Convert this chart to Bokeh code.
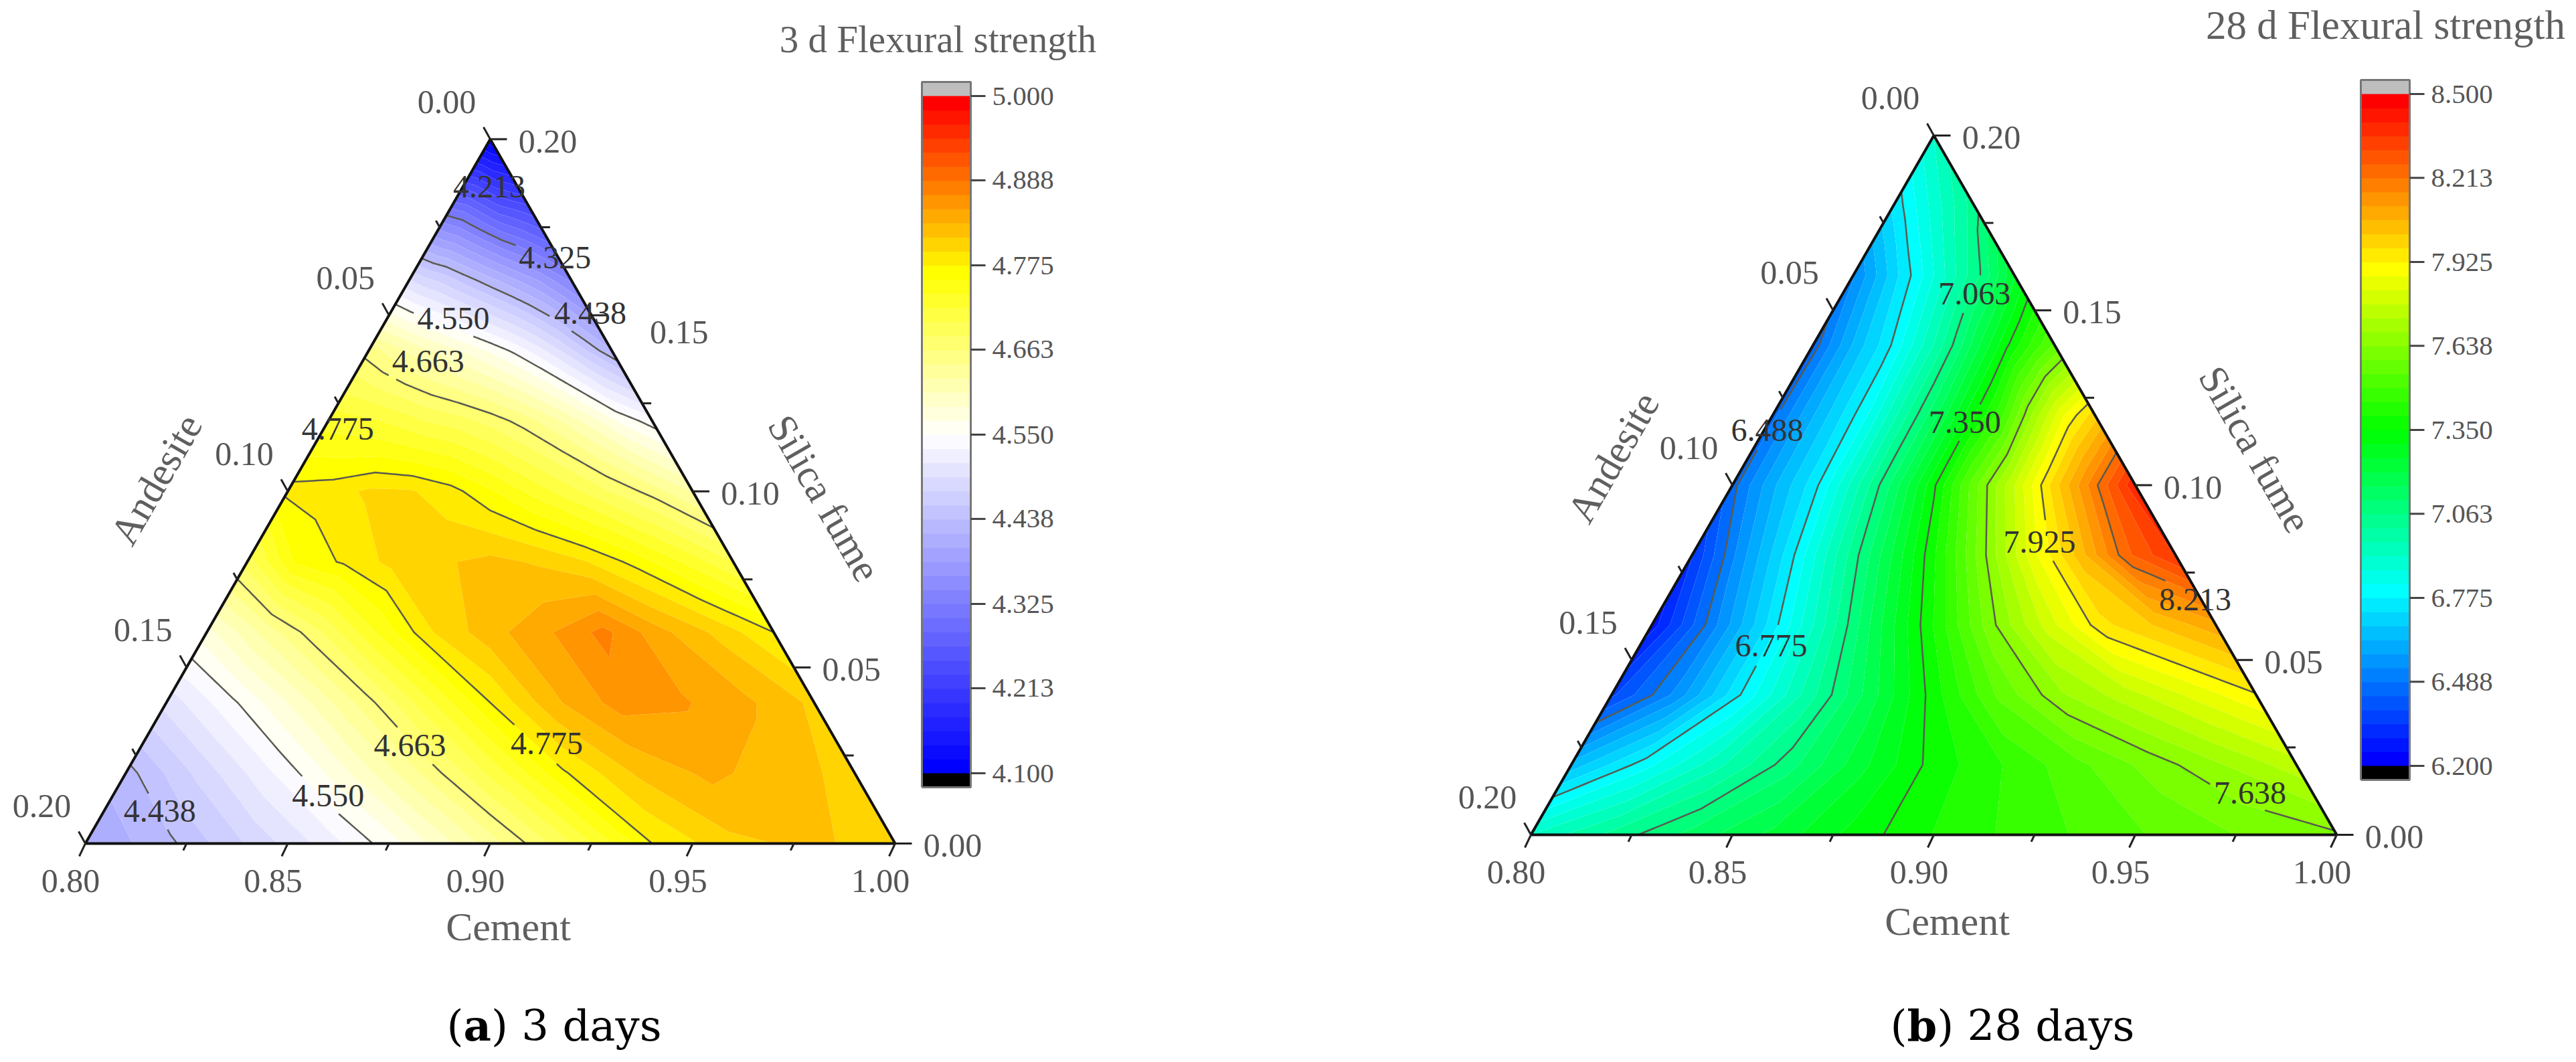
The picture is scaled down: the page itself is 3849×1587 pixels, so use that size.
import numpy as np
from bokeh.core.properties import field, value
from bokeh.embed import file_html
from bokeh.layouts import row
from bokeh.models import Range1d
from bokeh.plotting import figure
from bokeh.plotting.contour import contour_data
from bokeh.resources import INLINE

FONT = "Liberation Serif"
CAPTION_FONT = "DejaVu Serif"

# silica fume level of each row of the grids, bottom to top
silica_rows = [0.00, 0.02, 0.04, 0.06, 0.08, 0.10, 0.12, 0.14, 0.16, 0.18, 0.20]
# each row runs from the left edge to the right edge of the triangle, 11 values

z_3d = [
    [4.400, 4.432, 4.477, 4.522, 4.573, 4.634, 4.700, 4.775, 4.808, 4.817, 4.800],
    [4.430, 4.480, 4.530, 4.583, 4.642, 4.705, 4.772, 4.815, 4.836, 4.822, 4.805],
    [4.500, 4.545, 4.594, 4.649, 4.712, 4.775, 4.828, 4.858, 4.852, 4.834, 4.808],
    [4.580, 4.630, 4.680, 4.739, 4.794, 4.824, 4.847, 4.875, 4.837, 4.808, 4.775],
    [4.690, 4.760, 4.778, 4.800, 4.810, 4.818, 4.810, 4.794, 4.768, 4.735, 4.700],
    [4.782, 4.785, 4.797, 4.796, 4.783, 4.759, 4.733, 4.707, 4.680, 4.655, 4.623],
    [4.730, 4.725, 4.715, 4.700, 4.690, 4.675, 4.655, 4.630, 4.600, 4.565, 4.540],
    [4.655, 4.635, 4.615, 4.600, 4.583, 4.565, 4.545, 4.520, 4.490, 4.455, 4.420],
    [4.495, 4.480, 4.470, 4.455, 4.440, 4.425, 4.410, 4.395, 4.380, 4.360, 4.340],
    [4.310, 4.305, 4.300, 4.290, 4.280, 4.270, 4.260, 4.255, 4.250, 4.245, 4.240],
    [4.105, 4.105, 4.105, 4.105, 4.105, 4.105, 4.105, 4.105, 4.105, 4.105, 4.105],
]

z_28d = [
    [6.92, 7.03, 7.13, 7.22, 7.32, 7.40, 7.46, 7.51, 7.56, 7.60, 7.63],
    [6.65, 6.80, 6.95, 7.09, 7.24, 7.37, 7.45, 7.53, 7.61, 7.685, 7.76],
    [6.38, 6.55, 6.775, 6.98, 7.18, 7.375, 7.55, 7.68, 7.76, 7.84, 7.92],
    [6.27, 6.50, 6.72, 6.95, 7.19, 7.40, 7.62, 7.80, 7.96, 8.03, 8.10],
    [6.34, 6.56, 6.75, 6.97, 7.18, 7.39, 7.62, 7.85, 8.04, 8.25, 8.36],
    [6.47, 6.62, 6.75, 6.94, 7.13, 7.34, 7.57, 7.78, 8.00, 8.20, 8.40],
    [6.47, 6.60, 6.71, 6.83, 6.99, 7.14, 7.31, 7.46, 7.68, 7.87, 8.00],
    [6.46, 6.57, 6.67, 6.75, 6.86, 6.97, 7.09, 7.22, 7.34, 7.45, 7.55],
    [6.53, 6.60, 6.67, 6.74, 6.80, 6.87, 6.94, 7.01, 7.07, 7.16, 7.25],
    [6.74, 6.77, 6.80, 6.83, 6.86, 6.89, 6.92, 6.95, 6.98, 7.01, 7.04],
    [6.92, 6.92, 6.92, 6.92, 6.92, 6.92, 6.92, 6.92, 6.92, 6.92, 6.92],
]

ticks_3d = [4.100, 4.213, 4.325, 4.438, 4.550, 4.663, 4.775, 4.888, 5.000]
ticks_28d = [6.200, 6.488, 6.775, 7.063, 7.350, 7.638, 7.925, 8.213, 8.500]
lines_3d = [4.213, 4.325, 4.438, 4.550, 4.663, 4.775]
lines_28d = [6.488, 6.775, 7.063, 7.350, 7.638, 7.925, 8.213]

# contour labels: text, cement, silica
labels_3d = [("4.213", 0.8065, 0.1865), ("4.325", 0.8328, 0.1664), ("4.438", 0.8494, 0.1506),
             ("4.550", 0.8164, 0.1490), ("4.663", 0.8162, 0.1369), ("4.775", 0.8035, 0.1177),
             ("4.663", 0.8662, 0.0279), ("4.775", 0.8997, 0.0285), ("4.550", 0.8532, 0.0135),
             ("4.438", 0.8138, 0.0092)]
labels_28d = [("7.063", 0.8327, 0.1548), ("6.488", 0.8008, 0.1157), ("7.350", 0.8487, 0.1180),
              ("7.925", 0.8844, 0.0837), ("8.213", 0.9312, 0.0673), ("6.775", 0.8326, 0.0541),
              ("7.638", 0.9725, 0.0120)]

major = [0.00, 0.05, 0.10, 0.15, 0.20]
minor = [0.025, 0.075, 0.125, 0.175]

BLUE, CYAN, GREEN, YELLOW, RED = (0, 0, 255), (0, 255, 255), (0, 255, 0), (255, 255, 0), (255, 0, 0)
WHITE = (255, 255, 255)
TOP = 0
BOTTOM = 1579
TICK_GREY = "#555555"


def band_colors(nodes):
    pos = [n[0] for n in nodes]
    out = []
    for k in range(48):
        rgb = [int(round(np.interp(k, pos, [n[1][i] for n in nodes]))) for i in range(3)]
        out.append("#%02x%02x%02x" % tuple(rgb))
    return out


def cut_lines(xs, ys, boxes):
    # contour lines stop around their labels, as in the original
    new_x, new_y = [], []
    for x, y in zip(xs, ys):
        x, y = np.asarray(x, float), np.asarray(y, float)
        if len(x) < 2:
            continue
        t = np.arange(len(x))
        tt = np.linspace(0, len(x) - 1, (len(x) - 1) * 12 + 1)
        fx, fy = np.interp(tt, t, x), np.interp(tt, t, y)
        for bx, by, hw, hh in boxes:
            hit = (np.abs(fx - bx) < hw) & (np.abs(fy - by) < hh)
            fx[hit] = np.nan
            fy[hit] = np.nan
        new_x.append(fx.tolist())
        new_y.append(fy.tolist())
    return new_x, new_y


def panel(z, ticks, line_levels, labels, nodes, tern, bar, page_left, page_right, title, names, caption,
          shifted=None):
    px_x, px_y, bl_x, base_y = tern
    s = np.array(silica_rows)
    frac = np.linspace(0, 1, 11)
    cement = 0.8 + np.outer(0.2 - s, frac)
    X = cement + s[:, None] / 2
    Y = np.repeat(s[:, None], 11, axis=1)
    Z = np.array(z)

    low, high = ticks[0], ticks[-1]
    levels = np.linspace(low, high, 49)
    colors = band_colors(nodes)

    x_range = Range1d(0.8 - (bl_x - page_left) / px_x, 0.8 + (page_right - bl_x) / px_x)
    y_range = Range1d(-(BOTTOM - base_y) / px_y, (base_y - TOP) / px_y)
    p = figure(width=page_right - page_left, height=BOTTOM - TOP, x_range=x_range, y_range=y_range,
               toolbar_location=None, output_backend="svg", min_border=0)
    p.xaxis.visible = False
    p.yaxis.visible = False
    p.grid.visible = False
    p.outline_line_color = None

    bar_left, bar_right, y_high, y_low = bar
    per_px = (high - low) / (y_low - y_high)
    p.extra_x_ranges = {"page_x": Range1d(page_left, page_right)}
    p.extra_y_ranges = {"page_y": Range1d(BOTTOM, TOP),
                        "bar_y": Range1d(low - (BOTTOM - y_low) * per_px, high + (y_high - TOP) * per_px)}

    fills = p.contour(X, Y, Z, levels, fill_color=colors)
    fills.fill_renderer.glyph.line_color = field("fill_color")
    fills.fill_renderer.glyph.line_width = 1

    boxes = [(c + si / 2, si, 58 / px_x, 26 / px_y) for _, c, si in labels]
    data = contour_data(X, Y, Z, line_levels, want_fill=False, want_line=True)
    lx, ly = cut_lines(data.line_data.xs, data.line_data.ys, boxes)
    p.multi_line(lx, ly, line_color="#5a5a50", line_width=2.5)

    # triangle
    p.multi_line([[0.8, 1.0, 0.9, 0.8]], [[0.0, 0.0, 0.2, 0.0]], line_color="#111111", line_width=4)

    # ticks on the three sides
    dx_b, dy_b = -9 / px_x, -19 / px_y
    dx_l, dy_l = -10 / px_x, 18 / px_y
    dx_r, dy_r = 25 / px_x, 0.0
    tx, ty = [], []
    for vals, k in ((major, 1.0), (minor, 0.55)):
        for v in vals:
            # cement
            x0, y0 = 0.8 + v, 0.0
            tx.append([x0, x0 + k * dx_b])
            ty.append([y0, y0 + k * dy_b])
            # andesite
            x0, y0 = 0.8 + (0.2 - v) / 2, 0.2 - v
            tx.append([x0, x0 + k * dx_l])
            ty.append([y0, y0 + k * dy_l])
            # silica fume
            x0, y0 = 1.0 - v / 2, v
            tx.append([x0, x0 + k * dx_r])
            ty.append([y0, y0 + k * dy_r])
    p.multi_line(tx, ty, line_color="#222222", line_width=3)

    # tick labels
    txt_x, txt_y, txt = [], [], []
    for v in major:
        s_txt = "%.2f" % v
        txt_x.append(0.8 + v - 22 / px_x)
        txt_y.append(-56 / px_y)
        txt.append("%.2f" % (0.8 + v))
        txt_x.append(0.8 + (0.2 - v) / 2 - 65 / px_x)
        txt_y.append(0.2 - v + 56 / px_y)
        txt.append(s_txt)
        sx, sy = (shifted or {}).get(v, (0, 0))
        txt_x.append(1.0 - v / 2 + (86 + sx) / px_x)
        txt_y.append(v - (3 + sy) / px_y)
        txt.append(s_txt)
    p.text(txt_x, txt_y, text=txt, text_font=value(FONT), text_font_size="50px", text_color=TICK_GREY,
           text_align="center", text_baseline="middle")

    # contour labels
    p.text([c + si / 2 for _, c, si in labels], [si for _, c, si in labels], text=[t for t, _, _ in labels],
           text_font=value(FONT), text_font_size="48px", text_color="#333333",
           text_align="center", text_baseline="middle")

    # colour scale
    p.quad(left=[bar_left] * 48, right=[bar_right] * 48, bottom=levels[:-1], top=levels[1:], fill_color=colors,
           line_color=colors, line_width=1, x_range_name="page_x", y_range_name="bar_y")
    step = levels[1] - levels[0]
    p.quad(left=[bar_left, bar_left], right=[bar_right, bar_right], bottom=[high, low - step], top=[high + step, low],
           fill_color=["#bebebe", "#000000"], line_color=None, x_range_name="page_x", y_range_name="bar_y")
    p.multi_line([[bar_left, bar_left, bar_right, bar_right, bar_left]],
                 [[low - step, high + step, high + step, low - step, low - step]],
                 line_color="#777777", line_width=3, x_range_name="page_x", y_range_name="bar_y")
    p.multi_line([[bar_right, bar_right + 22] for _ in ticks], [[t, t] for t in ticks], line_color="#444444",
                 line_width=3, x_range_name="page_x", y_range_name="bar_y")
    p.text([bar_right + 32] * len(ticks), ticks, text=["%.3f" % t for t in ticks], text_font=value(FONT),
           text_font_size="41px", text_color=TICK_GREY, text_baseline="middle",
           x_range_name="page_x", y_range_name="bar_y")

    # titles
    t_x, t_y, t_s, t_size = title
    p.text([t_x], [t_y], text=[t_s], text_font=value(FONT), text_font_size=t_size, text_color="#5f5f5f",
           text_align="center", text_baseline="middle", x_range_name="page_x", y_range_name="page_y")
    for name, nx, ny, ang in names:
        p.text([nx], [ny], text=[name], angle=[ang], text_font=value(FONT), text_font_size="60px",
               text_color="#5f5f5f", text_align="center", text_baseline="middle",
               x_range_name="page_x", y_range_name="page_y")

    c_x, c_y, letter, rest = caption
    p.text([c_x], [c_y], text=["("], text_font=value(CAPTION_FONT), text_font_size="64px", text_color="#000000",
           text_baseline="middle", x_range_name="page_x", y_range_name="page_y")
    p.text([c_x + 25], [c_y], text=[letter], text_font=value(CAPTION_FONT), text_font_size="64px",
           text_font_style="bold", text_color="#000000", text_baseline="middle",
           x_range_name="page_x", y_range_name="page_y")
    p.text([c_x + 25 + (41.5 if letter == "a" else 44.7)], [c_y], text=[rest], text_font=value(CAPTION_FONT),
           text_font_size="64px", text_color="#000000", text_baseline="middle",
           x_range_name="page_x", y_range_name="page_y")
    return p


nodes_3d = [(0, BLUE), (23.5, WHITE), (35, YELLOW), (47, RED)]
nodes_28d = [(0, BLUE), (12, CYAN), (23.5, GREEN), (35, YELLOW), (47, RED)]

p1 = panel(z_3d, ticks_3d, lines_3d, labels_3d, nodes_3d,
           (1210 / 0.2, 1052.5 / 0.2, 127, 1260), (1377, 1450, 143, 1155), 0, 1920,
           (1401, 58, "3 d Flexural strength", "57px"),
           [("Cement", 759, 1384, 0), ("Silica fume", 1231, 744, -np.pi / 3), ("Andesite", 233, 716, np.pi / 3)],
           (667, 1532, "a", ") 3 days"), shifted={0.15: (45, 22)})
p2 = panel(z_28d, ticks_28d, lines_28d, labels_28d, nodes_28d,
           (1204 / 0.2, 1045 / 0.2, 2287, 1247), (3527, 3600, 140, 1144), 1920, 3840,
           (3564, 37, "28 d Flexural strength", "61px"),
           [("Cement", 2909, 1376, 0), ("Silica fume", 3369, 671, -np.pi / 3), ("Andesite", 2410, 683, np.pi / 3)],
           (2824, 1532, "b", ") 28 days"))

page = row(p1, p2)
open("out.html", "w").write(file_html(page, INLINE))
